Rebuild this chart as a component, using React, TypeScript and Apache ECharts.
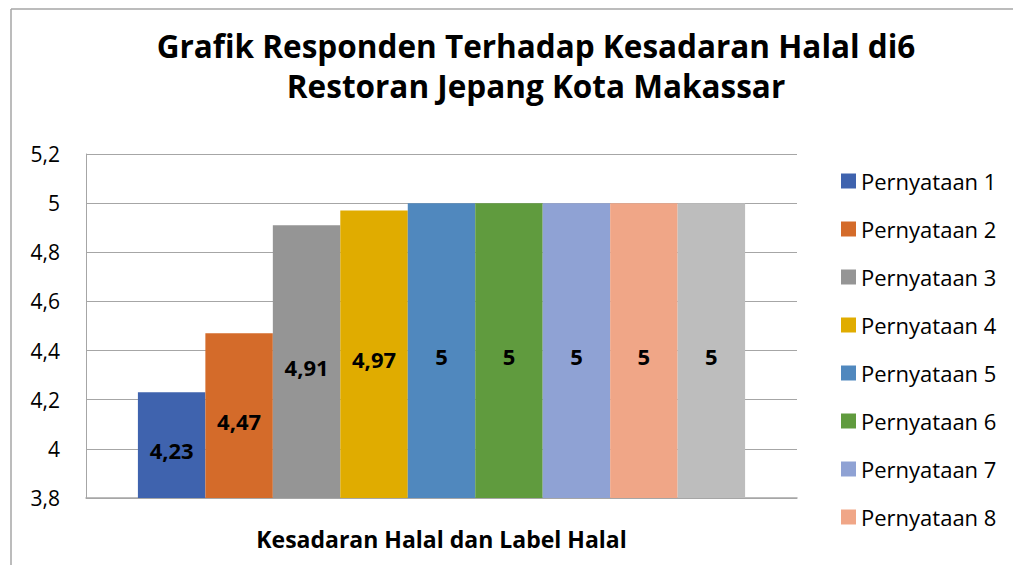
import React, { useEffect, useRef } from "react";
import * as echarts from "echarts";

const categories = ["Kesadaran Halal dan Label Halal"];
const seriesNames = [
  "Pernyataan 1",
  "Pernyataan 2",
  "Pernyataan 3",
  "Pernyataan 4",
  "Pernyataan 5",
  "Pernyataan 6",
  "Pernyataan 7",
  "Pernyataan 8",
  "Pernyataan 9",
];
const visibleLegendCount = 8;
const seriesValues = [4.23, 4.47, 4.91, 4.97, 5, 5, 5, 5, 5];
const seriesColors = [
  "#3F63AE",
  "#D46B2A",
  "#959595",
  "#E0AC00",
  "#5088BE",
  "#609B3E",
  "#8FA2D4",
  "#F0A687",
  "#BDBDBD",
];
const yMin = 3.8;
const yMax = 5.2;
const yStep = 0.2;

const FONT = "'Open Sans', 'Noto Sans', sans-serif";

export default function App() {
  const ref = useRef<HTMLDivElement>(null);
  useEffect(() => {
    if (!ref.current) return;
    const chart = echarts.init(ref.current, null, { renderer: "svg" });
    const fmt = (v: number) => String(Math.round(v * 100) / 100).replace(".", ",");
    chart.setOption({
      animation: false,
      backgroundColor: "#ffffff",
      title: {
        text: "Grafik Responden Terhadap Kesadaran Halal di6\nRestoran Jepang Kota Makassar",
        left: 531,
        textAlign: "center",
        top: 20,
        textStyle: {
          fontFamily: FONT,
          fontSize: 31.5,
          fontWeight: "bold",
          color: "#000000",
          lineHeight: 40,
        },
      },
      legend: {
        orient: "vertical",
        left: 836,
        top: 161,
        height: 390,
        itemWidth: 15,
        itemHeight: 15,
        itemGap: 18,
        icon: "rect",
        textStyle: { fontFamily: FONT, fontSize: 22, color: "#000000", lineHeight: 30 },
        data: seriesNames.slice(0, visibleLegendCount),
      },
      grid: { left: 86, right: 216, top: 154, bottom: 67 },
      xAxis: {
        type: "category",
        data: categories,
        name: categories[0],
        nameLocation: "middle",
        nameGap: 29,
        nameTextStyle: {
          fontFamily: FONT,
          fontSize: 23,
          fontWeight: "bold",
          color: "#000000",
        },
        axisLabel: { show: false },
        axisTick: { show: false },
        axisLine: { lineStyle: { color: "#a6a6a6", width: 1.5 } },
      },
      yAxis: {
        type: "value",
        min: yMin,
        max: yMax,
        interval: yStep,
        axisLine: { show: true, lineStyle: { color: "#a6a6a6" } },
        axisTick: { show: false },
        splitLine: { lineStyle: { color: "#a6a6a6" } },
        axisLabel: {
          margin: 26,
          fontFamily: FONT,
          fontSize: 21,
          color: "#000000",
          formatter: (v: number) => fmt(v),
        },
      },
      series: seriesNames.map((name, i) => ({
        name,
        type: "bar",
        data: [seriesValues[i]],
        barGap: "0%",
        barCategoryGap: "14.6%",
        itemStyle: { color: seriesColors[i] },
        label: {
          show: true,
          position: "inside",
          offset: [0, 5],
          fontFamily: FONT,
          fontSize: 22,
          fontWeight: "bold",
          color: "#000000",
          formatter: (p: any) => fmt(p.value),
        },
      })),
      graphic: [
        {
          type: "line",
          shape: { x1: 11, y1: 9, x2: 1013, y2: 9 },
          style: { stroke: "#a6a6a6", lineWidth: 1.5 },
        },
        {
          type: "line",
          shape: { x1: 11, y1: 9, x2: 11, y2: 565 },
          style: { stroke: "#a6a6a6", lineWidth: 1.5 },
        },
      ],
    });
    return () => chart.dispose();
  }, []);
  return (
    <div
      ref={ref}
      style={{ position: "fixed", left: 0, top: 0, width: 1013, height: 565 }}
    />
  );
}
